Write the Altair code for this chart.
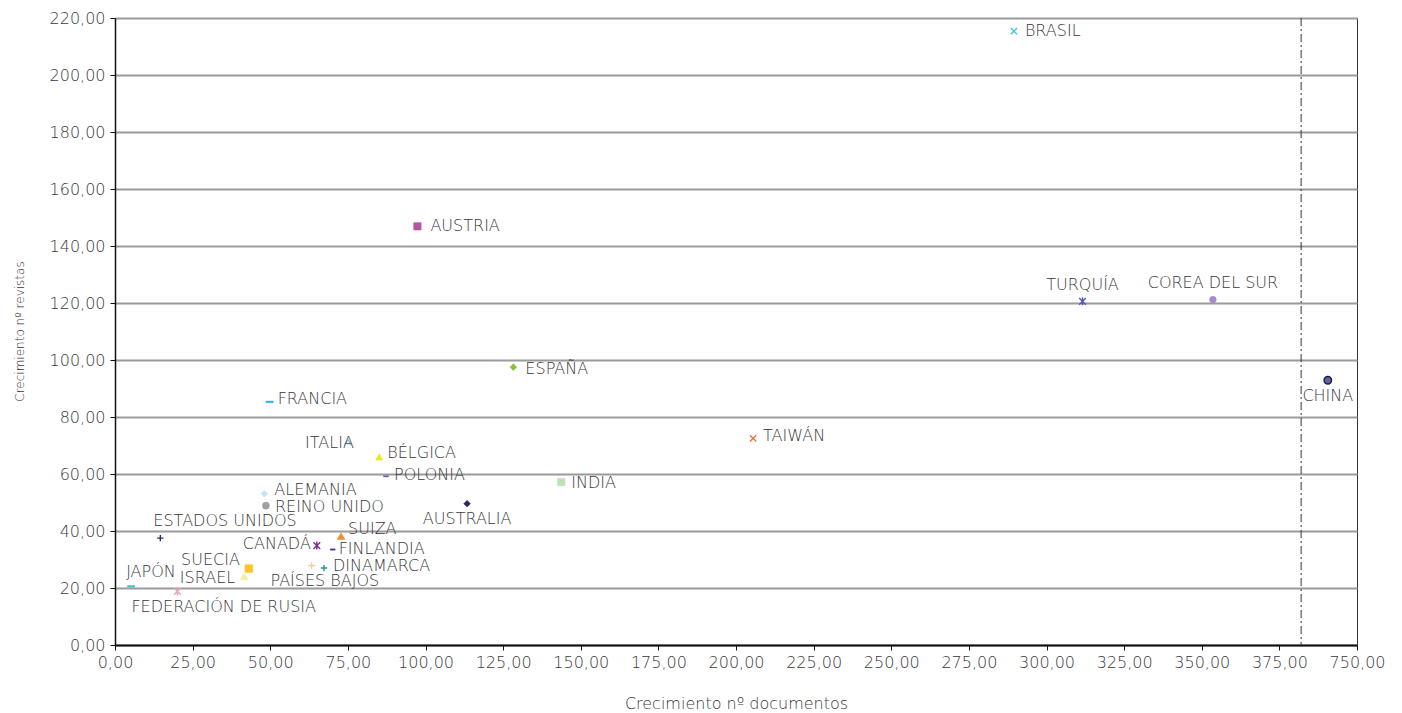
import altair as alt
import pandas as pd

# ---- data ----
countries = ["BRASIL", "TURQUÍA", "COREA DEL SUR", "CHINA", "AUSTRIA", "ESPAÑA",
             "FRANCIA", "ITALIA", "BÉLGICA", "POLONIA", "INDIA", "AUSTRALIA",
             "ALEMANIA", "REINO UNIDO", "ESTADOS UNIDOS", "CANADÁ", "SUIZA",
             "FINLANDIA", "SUECIA", "ISRAEL", "PAÍSES BAJOS", "DINAMARCA",
             "JAPÓN", "FEDERACIÓN DE RUSIA", "TAIWÁN"]
doc_growth = [289.5, 311.6, 353.6, 390.6, 97.4, 128.3,
              49.8, 75.0, 85.1, 87.3, 143.7, 113.4,
              48.1, 48.6, 14.6, 65.0, 72.8,
              70.1, 43.1, 41.6, 63.3, 67.3,
              5.2, 20.1, 205.5]
rev_growth = [215.4, 120.6, 121.2, 92.9, 146.9, 97.5,
              85.3, 71.0, 66.0, 59.2, 57.2, 49.6,
              53.1, 48.9, 37.5, 34.9, 38.2,
              33.5, 26.8, 24.1, 27.9, 27.0,
              20.6, 18.8, 72.5]
x_ticks = list(range(0, 401, 25))
y_ticks = list(range(0, 221, 20))
break_value = [382]
break_label = "750,00"

# ---- styles ----
CROSS = "M-1,-1L1,1M-1,1L1,-1"
STAR = "M-1,-1L1,1M-1,1L1,-1M0,-1.2L0,1.2"
PLUS = "M-1,0L1,0M0,-1L0,1"
DASH = "M-1,-0.25L1,-0.25L1,0.25L-1,0.25Z"
OPEN_TRI = "M-1,0.8L0,-0.9L1,0.8M-0.6,0.3L0.6,0.3"

style = {
    "BRASIL": (CROSS, "transparent", "#45c0d8", 40, 1.3),
    "TURQUÍA": (STAR, "transparent", "#5558b0", 45, 1.4),
    "COREA DEL SUR": ("circle", "#a98bc9", "#a98bc9", 45, 0.5),
    "CHINA": ("circle", "#5c64a8", "#1e1e3c", 55, 1.5),
    "AUSTRIA": ("square", "#b3559f", "#b3559f", 55, 0.5),
    "ESPAÑA": ("diamond", "#86bf3a", "#86bf3a", 45, 0.5),
    "FRANCIA": (DASH, "#2cb4ef", "#2cb4ef", 55, 0.3),
    "ITALIA": (OPEN_TRI, "transparent", "#8db3e2", 50, 1.2),
    "BÉLGICA": ("triangle-up", "#ebe71e", "#ebe71e", 55, 0.5),
    "POLONIA": (DASH, "#4a66b8", "#4a66b8", 25, 0.5),
    "INDIA": ("square", "#bfe0b5", "#bfe0b5", 55, 0.5),
    "AUSTRALIA": ("diamond", "#2b2a66", "#2b2a66", 45, 0.5),
    "ALEMANIA": ("diamond", "#c6e3f2", "#c6e3f2", 45, 0.5),
    "REINO UNIDO": ("circle", "#a0a0a4", "#a0a0a4", 50, 0.5),
    "ESTADOS UNIDOS": (PLUS, "transparent", "#1f2f6e", 40, 1.4),
    "CANADÁ": (STAR, "transparent", "#7b2a93", 45, 1.4),
    "SUIZA": ("triangle-up", "#f38b2d", "#f38b2d", 60, 0.5),
    "FINLANDIA": (DASH, "#2f3f92", "#2f3f92", 25, 0.5),
    "SUECIA": ("square", "#fbc22f", "#fbc22f", 60, 0.5),
    "ISRAEL": ("triangle-up", "#f3f0a0", "#f3f0a0", 60, 0.5),
    "PAÍSES BAJOS": (PLUS, "transparent", "#f8c9a0", 45, 1.3),
    "DINAMARCA": (PLUS, "transparent", "#1f9a90", 40, 1.4),
    "JAPÓN": (DASH, "#3fc2c4", "#3fc2c4", 55, 0.3),
    "FEDERACIÓN DE RUSIA": (STAR, "transparent", "#ef9fc0", 45, 1.4),
    "TAIWÁN": (CROSS, "transparent", "#ee6a3a", 40, 1.3),
}

# label placement: (dx, dy, align)
label_pos = {
    "BRASIL": (11, 0, "left"),
    "TURQUÍA": (0, -16, "center"),
    "COREA DEL SUR": (0, -17, "center"),
    "CHINA": (0, 16, "center"),
    "AUSTRIA": (13, 0, "left"),
    "ESPAÑA": (12, 2, "left"),
    "FRANCIA": (8, -3, "left"),
    "ITALIA": (6, 0, "right"),
    "BÉLGICA": (8, -4, "left"),
    "POLONIA": (8, -1, "left"),
    "INDIA": (10, 1, "left"),
    "AUSTRALIA": (0, 15, "center"),
    "ALEMANIA": (10, -4, "left"),
    "REINO UNIDO": (9, 1, "left"),
    "ESTADOS UNIDOS": (-7, -17, "left"),
    "CANADÁ": (-6, -2, "right"),
    "SUIZA": (7, -7, "left"),
    "FINLANDIA": (6, -1, "left"),
    "SUECIA": (-9, -9, "right"),
    "ISRAEL": (-9, 2, "right"),
    "PAÍSES BAJOS": (-41, 16, "left"),
    "DINAMARCA": (9, -2, "left"),
    "JAPÓN": (-5, -14, "left"),
    "FEDERACIÓN DE RUSIA": (-46, 16, "left"),
    "TAIWÁN": (10, -2, "left"),
}

df = pd.DataFrame({"country": countries, "docs": doc_growth, "revs": rev_growth})
df["shape"] = [style[c][0] for c in countries]
df["fill"] = [style[c][1] for c in countries]
df["stroke"] = [style[c][2] for c in countries]
df["size"] = [style[c][3] for c in countries]
df["sw"] = [style[c][4] for c in countries]

FONT = "DejaVu Sans"
TXT = "#383838"
FW = 200

x_enc = alt.X("docs:Q",
              scale=alt.Scale(domain=[0, 400], nice=False, zero=False),
              axis=alt.Axis(values=x_ticks,
                            labelExpr=f"datum.value == 400 ? '{break_label}' : replace(format(datum.value, '.2f'), '.', ',')",
                            title="Crecimiento nº documentos",
                            grid=False, domainColor="#111", domainWidth=2,
                            tickColor="#111", tickSize=5, tickWidth=1,
                            labelFontSize=16, labelColor=TXT, labelPadding=4,
                            labelFont=FONT, labelFontWeight=FW, labelFlush=False,
                            labelOverlap=False,
                            titleFont=FONT, titleFontSize=16, titleFontWeight=FW,
                            titleColor=TXT, titleY=58, titleBaseline="middle"))
y_enc = alt.Y("revs:Q",
              scale=alt.Scale(domain=[0, 220], nice=False, zero=True),
              axis=alt.Axis(values=y_ticks,
                            labelExpr="replace(format(datum.value, '.2f'), '.', ',')",
                            title="Crecimiento nº revistas",
                            grid=True, gridColor="#9a9a9a", gridWidth=2,
                            domainColor="#111", domainWidth=1.5,
                            tickColor="#111", tickSize=5, tickWidth=1,
                            labelFontSize=16, labelColor=TXT, labelPadding=5,
                            labelFont=FONT, labelFontWeight=FW, labelFlush=False,
                            labelOverlap=False,
                            titleFont=FONT, titleFontSize=12, titleFontWeight=FW,
                            titleColor=TXT, titleX=-96, titleY=313,
                            titleAlign="center", titleBaseline="middle", titleAngle=-90))

base = alt.Chart(df)

points = base.mark_point(opacity=1, filled=False).encode(
    x=x_enc, y=y_enc,
    shape=alt.Shape("shape:N", scale=None, legend=None),
    fill=alt.Fill("fill:N", scale=None, legend=None),
    stroke=alt.Stroke("stroke:N", scale=None, legend=None),
    size=alt.Size("size:Q", scale=None, legend=None),
    strokeWidth=alt.StrokeWidth("sw:Q", scale=None, legend=None),
)

brk = alt.Chart(pd.DataFrame({"b": break_value})).mark_rule(
    color="#333", strokeWidth=1, strokeDash=[8, 3, 2, 3]
).encode(x=alt.X("b:Q", scale=alt.Scale(domain=[0, 400], nice=False)))

labels = []
for c in countries:
    dx, dy, al = label_pos[c]
    labels.append(
        base.transform_filter(alt.datum.country == c).mark_text(
            dx=dx, dy=dy, align=al, baseline="middle", font=FONT,
            fontSize=16, fontWeight=FW, color=TXT
        ).encode(x="docs:Q", y="revs:Q", text="country:N")
    )

chart = alt.layer(brk, points, *labels).properties(
    width=1242, height=627,
    autosize=alt.AutoSizeParams(type="none"),
    padding={"left": 107, "top": 10, "right": 35, "bottom": 68},
).configure_view(stroke="#333", strokeWidth=1)

chart.save("out.html", embed_options={"renderer": "svg", "actions": False})
